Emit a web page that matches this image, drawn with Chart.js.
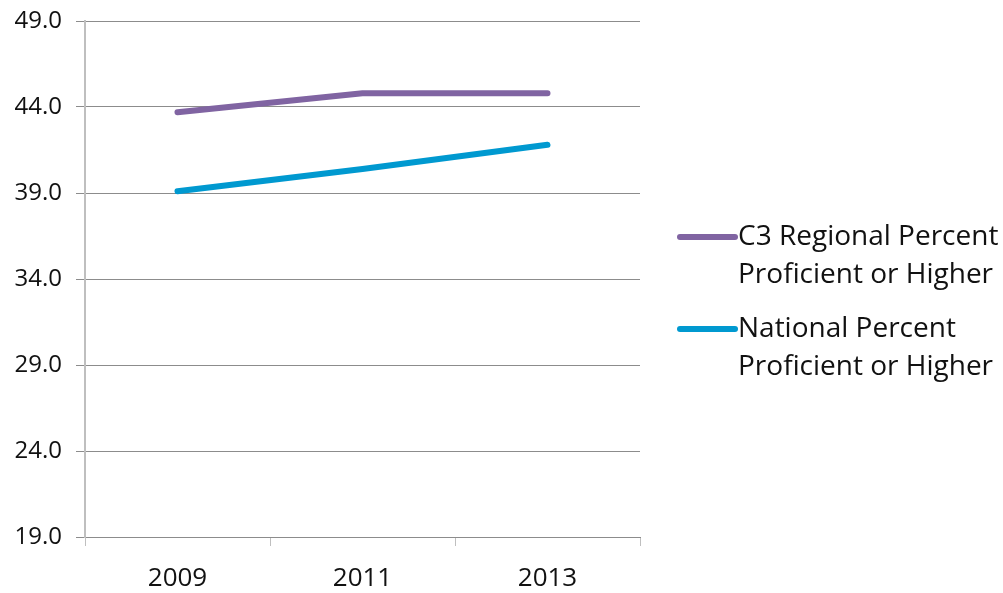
<!DOCTYPE html>
<html>
<head>
<meta charset="utf-8">
<script src="https://cdn.jsdelivr.net/npm/chart.js@4/dist/chart.umd.min.js"></script>
<style>
  html, body { margin: 0; padding: 0; background: #fff; }
  #wrap { width: 1003px; height: 593px; }
</style>
</head>
<body>
<div id="wrap"><canvas id="chart" width="1003" height="593"></canvas></div>
<script>
var years = ['2009', '2011', '2013'];
var regionalValues = [43.7, 44.8, 44.8];
var nationalValues = [39.1, 40.4, 41.8];
var seriesNames = ['C3 Regional Percent Proficient or Higher', 'National Percent Proficient or Higher'];
var yTicks = [19, 24, 29, 34, 39, 44, 49];

var FONT = '"Open Sans", "Liberation Sans", sans-serif';

function createDataSet(name, color, data){
    return {
        label: name,
        borderColor: color,
        backgroundColor: color,
        borderWidth: 6,
        borderCapStyle: 'round',
        borderJoinStyle: 'round',
        pointRadius: 0,
        tension: 0,
        data: data,
        fill: false
    };
}

// legend drawn by hand so the long names can wrap like the original
var wrapLegend = {
    id: 'wrapLegend',
    afterDraw: function(chart){
        var ctx = chart.ctx;
        var area = chart.chartArea;
        var x0 = area.right + 40;
        var lineLen = 55;
        var maxW = 275;
        var lineH = 38;
        ctx.save();
        ctx.font = '28px ' + FONT;
        ctx.textBaseline = 'middle';
        ctx.textAlign = 'left';
        var y = 237;
        chart.data.datasets.forEach(function(ds){
            var words = ds.label.split(' ');
            var lines = [], cur = '';
            words.forEach(function(w){
                var test = cur ? cur + ' ' + w : w;
                if (ctx.measureText(test).width > maxW && cur) { lines.push(cur); cur = w; }
                else cur = test;
            });
            if (cur) lines.push(cur);
            ctx.strokeStyle = ds.borderColor;
            ctx.lineWidth = 6;
            ctx.lineCap = 'round';
            ctx.beginPath();
            ctx.moveTo(x0, y);
            ctx.lineTo(x0 + lineLen, y);
            ctx.stroke();
            ctx.fillStyle = '#111';
            lines.forEach(function(t, i){
                ctx.fillText(t, x0 + lineLen + 3, y + i * lineH);
            });
            y += lines.length * lineH + 16;
        });
        ctx.restore();
    }
};

var ctx = document.getElementById('chart').getContext('2d');
var chart = new Chart(ctx, {
    type: 'line',
    data: {
        labels: years,
        datasets: [
            createDataSet(seriesNames[0], '#8064a2', regionalValues),
            createDataSet(seriesNames[1], '#0099d0', nationalValues)
        ]
    },
    options: {
        responsive: false,
        animation: false,
        layout: { padding: { left: 0, top: 21, right: 363, bottom: 0 } },
        plugins: {
            legend: { display: false },
            tooltip: { enabled: false }
        },
        scales: {
            x: {
                offset: true,
                grid: {
                    offset: true,
                    drawOnChartArea: false,
                    drawTicks: true,
                    tickLength: 9,
                    color: '#bfbfbf'
                },
                border: { color: '#8c8c8c', width: 1 },
                ticks: {
                    font: { family: FONT, size: 26 },
                    color: '#111',
                    padding: 17
                },
                afterFit: function(scale){
                    scale.height = 56;
                    scale.paddingLeft = 0;
                    scale.paddingRight = 0;
                }
            },
            y: {
                min: 19,
                max: 49,
                afterBuildTicks: function(scale){
                    scale.ticks = yTicks.map(function(v){ return { value: v }; });
                },
                grid: {
                    color: '#8c8c8c',
                    tickLength: 9
                },
                border: { color: '#bfbfbf', width: 2 },
                ticks: {
                    font: { family: FONT, size: 24 },
                    color: '#111',
                    padding: 14,
                    callback: function(v){ return Number(v).toFixed(1); }
                },
                afterFit: function(scale){
                    scale.width = 85;
                    scale.paddingTop = 0;
                    scale.paddingBottom = 0;
                }
            }
        }
    },
    plugins: [wrapLegend]
});
</script>
</body>
</html>
